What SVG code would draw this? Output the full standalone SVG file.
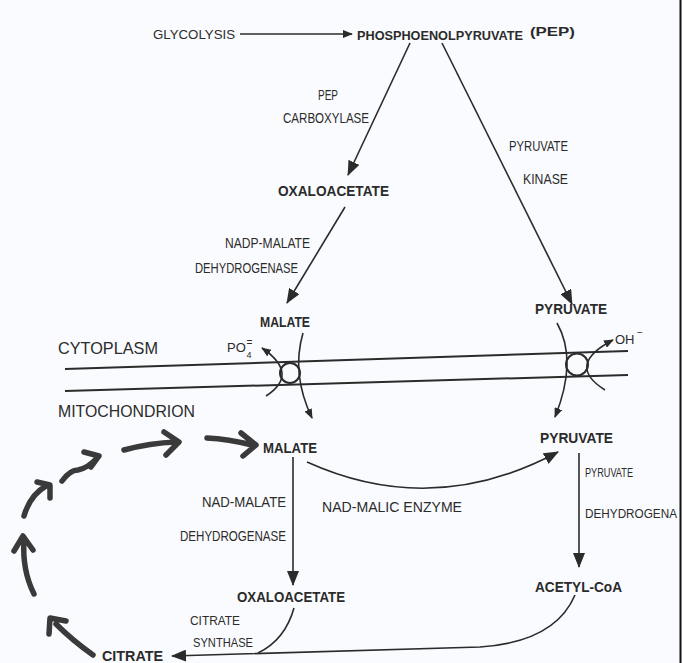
<svg xmlns="http://www.w3.org/2000/svg" width="682" height="663" viewBox="0 0 682 663">
<defs>
<style>
text{font-family:"Liberation Sans",Arial,sans-serif;fill:#2b2b2b;}
.m{font-weight:bold;font-size:15px;}
.e{font-size:14px;}
.r{font-size:17px;}
.ln{fill:none;stroke:#2b2b2b;stroke-width:1.6;}
.th{fill:none;stroke:#3a3a3a;stroke-width:5.5;stroke-linecap:round;stroke-linejoin:round;}
.mem{fill:none;stroke:#2b2b2b;stroke-width:2;}
</style>
<marker id="ah" viewBox="0 0 15 12" refX="14" refY="6" markerWidth="15" markerHeight="12" orient="auto" markerUnits="userSpaceOnUse"><path d="M0,0 L15,6 L0,12 Z" fill="#2b2b2b"/></marker>
<marker id="as" viewBox="0 0 10 8" refX="9" refY="4" markerWidth="10" markerHeight="8" orient="auto" markerUnits="userSpaceOnUse"><path d="M0,0 L10,4 L0,8 Z" fill="#2b2b2b"/></marker>
</defs>
<rect x="0" y="0" width="682" height="663" fill="#fafbfe"/>
<line x1="680.5" y1="0" x2="680.5" y2="663" stroke="#111" stroke-width="2"/>

<g id="connectors">
<path class="ln" d="M240,34 L352,34" marker-end="url(#as)"/>
<path class="ln" d="M410,43 L348,175" marker-end="url(#ah)"/>
<path class="ln" d="M442,43 L572,304" marker-end="url(#ah)"/>
<path class="ln" d="M345,207 L287,303" marker-end="url(#ah)"/>
<path class="ln" d="M293,457 L293,585" marker-end="url(#ah)"/>
<path class="ln" d="M307,462 Q433,519 558,452" marker-end="url(#ah)"/>
<path class="ln" d="M579,453 L579,567" marker-end="url(#ah)"/>
<path class="ln" d="M575,595 Q555,642 480,647 L172,656" marker-end="url(#ah)"/>
<path class="ln" d="M294,608 Q285,640 258,653"/>
<path class="ln" d="M266,396 Q300,374 262,348" marker-end="url(#as)"/>
<path class="ln" d="M303,333 Q291,374 312,418" marker-end="url(#as)"/>
<path class="ln" d="M557,323 Q578,360 555,417" marker-end="url(#as)"/>
<path class="ln" d="M605,390 Q565,365 613,340" marker-end="url(#as)"/>
<path class="th" d="M207,438 Q228,439 252,445 M241,433 L256,445 L243,456"/>
<path class="th" d="M124,450 Q150,443 176,442 M164,432 L179,442 L166,455"/>
<path class="th" d="M62,481 Q70,470 78,470 Q88,468 97,458 M84,452 L99,456 L91,467"/>
<path class="th" d="M24,516 Q30,495 46,486 M37,482 L50,485 L50,498"/>
<path class="th" d="M34,594 Q22,570 24,540 M14,551 L23,536 L33,550"/>
<path class="th" d="M93,655 Q72,640 56,624 M49,634 L50,618 L66,621"/>
</g>

<g id="membrane">
<line class="mem" x1="65" y1="369" x2="628" y2="351"/>
<line class="mem" x1="65" y1="391" x2="628" y2="375"/>
<circle class="mem" cx="290" cy="373" r="10"/>
<circle class="mem" cx="577" cy="364.5" r="11"/>
<text class="r" x="58" y="354" textLength="100" lengthAdjust="spacingAndGlyphs">CYTOPLASM</text>
<text class="r" x="58" y="417" textLength="137" lengthAdjust="spacingAndGlyphs">MITOCHONDRION</text>
</g>

<g id="glycolysis"><text x="153" y="39" font-size="13" textLength="82" lengthAdjust="spacingAndGlyphs">GLYCOLYSIS</text></g>
<g id="pep"><text x="357" y="40" font-weight="bold" font-size="13" textLength="166" lengthAdjust="spacingAndGlyphs">PHOSPHOENOLPYRUVATE</text><text x="530" y="36" font-weight="bold" font-size="12" textLength="45" lengthAdjust="spacingAndGlyphs">(PEP)</text></g>
<g id="pepc"><text class="e" x="318" y="100" textLength="20" lengthAdjust="spacingAndGlyphs">PEP</text><text class="e" x="283" y="123" textLength="86" lengthAdjust="spacingAndGlyphs">CARBOXYLASE</text></g>
<g id="oaa1"><text class="m" x="278" y="196" font-size="16" textLength="111" lengthAdjust="spacingAndGlyphs">OXALOACETATE</text></g>
<g id="pk"><text class="e" x="509" y="151" textLength="59" lengthAdjust="spacingAndGlyphs">PYRUVATE</text><text class="e" x="523" y="184" textLength="45" lengthAdjust="spacingAndGlyphs">KINASE</text></g>
<g id="nadpmdh"><text class="e" x="225" y="248" textLength="85" lengthAdjust="spacingAndGlyphs">NADP-MALATE</text><text class="e" x="195" y="273" textLength="103" lengthAdjust="spacingAndGlyphs">DEHYDROGENASE</text></g>
<g id="malate1"><text class="m" x="260" y="327" textLength="50" lengthAdjust="spacingAndGlyphs">MALATE</text></g>
<g id="pyruvate1"><text class="m" x="535" y="314" textLength="72" lengthAdjust="spacingAndGlyphs">PYRUVATE</text></g>
<g id="po4"><text x="227" y="352" font-size="13">PO</text><text x="246.5" y="358" font-size="9">4</text><text x="246.5" y="346" font-size="10">=</text></g>
<g id="oh"><text x="615" y="344" font-size="13">OH</text><text x="637" y="336" font-size="10">−</text></g>
<g id="malate2"><text class="m" x="263" y="453" textLength="54" lengthAdjust="spacingAndGlyphs">MALATE</text></g>
<g id="pyruvate2"><text class="m" x="540" y="443" textLength="73" lengthAdjust="spacingAndGlyphs">PYRUVATE</text></g>
<g id="nadmdh"><text class="e" x="202" y="507" textLength="84" lengthAdjust="spacingAndGlyphs">NAD-MALATE</text><text class="e" x="180" y="541" textLength="106" lengthAdjust="spacingAndGlyphs">DEHYDROGENASE</text></g>
<g id="nadme"><text class="e" x="322" y="512" textLength="140" lengthAdjust="spacingAndGlyphs">NAD-MALIC ENZYME</text></g>
<g id="pdh"><text x="585" y="477" font-size="13" textLength="48" lengthAdjust="spacingAndGlyphs">PYRUVATE</text><text x="585" y="518" font-size="12" textLength="92" lengthAdjust="spacingAndGlyphs">DEHYDROGENA</text></g>
<g id="acetylcoa"><text class="m" x="535" y="592" textLength="87" lengthAdjust="spacingAndGlyphs">ACETYL-CoA</text></g>
<g id="oaa2"><text class="m" x="237" y="602" textLength="108" lengthAdjust="spacingAndGlyphs">OXALOACETATE</text></g>
<g id="cs"><text x="190" y="625" font-size="13" textLength="50" lengthAdjust="spacingAndGlyphs">CITRATE</text><text x="193" y="647" font-size="13" textLength="60" lengthAdjust="spacingAndGlyphs">SYNTHASE</text></g>
<g id="citrate"><text class="m" x="102" y="661" textLength="61" lengthAdjust="spacingAndGlyphs">CITRATE</text></g>
</svg>
